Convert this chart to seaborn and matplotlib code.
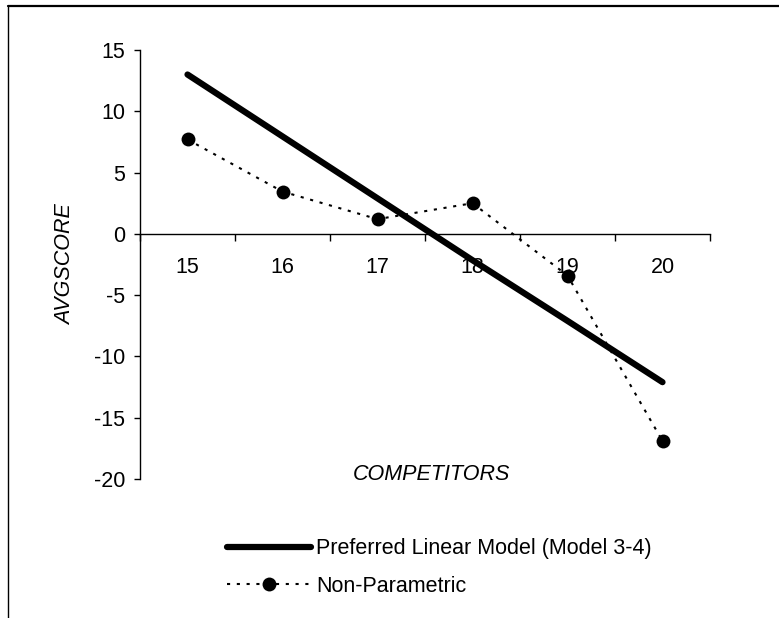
import matplotlib
matplotlib.use("Agg")
import matplotlib.pyplot as plt
from matplotlib.lines import Line2D
import seaborn as sns
import pandas as pd

competitors = [15, 16, 17, 18, 19, 20]
linear_model = [13.0, 7.95, 2.9, -2.15, -7.1, -12.1]
non_parametric = [7.7, 3.45, 1.2, 2.5, -3.4, -16.9]
y_ticks = [-20, -15, -10, -5, 0, 5, 10, 15]

df = pd.DataFrame({"COMPETITORS": competitors,
                   "linear": linear_model,
                   "nonpar": non_parametric})

sns.set_theme(style="white")
plt.rcParams['font.family'] = ['Liberation Sans', 'DejaVu Sans']
plt.rcParams['axes.unicode_minus'] = False
plt.rcParams['text.color'] = "black"
fs = 15.5

fig = plt.figure(figsize=(7.79, 6.18), dpi=100)
ax = fig.add_axes([140/779, 1 - 479/618, 570/779, 429/618])

sns.lineplot(data=df, x="COMPETITORS", y="linear", color="black", linewidth=4.5,
             solid_capstyle="round", label="Preferred Linear Model (Model 3-4)", ax=ax)
sns.lineplot(data=df, x="COMPETITORS", y="nonpar", color="black", linewidth=1.5,
             linestyle=(0, (1.5, 3.2)), marker="o", markersize=10, markeredgewidth=0,
             label="Non-Parametric", ax=ax)

ax.set_xlim(14.5, 20.5)
ax.set_ylim(-20, 15)
ax.set_yticks(y_ticks)
ax.set_xticks(competitors)
ax.set_xticks([c - 0.5 for c in competitors] + [20.5], minor=True)
ax.tick_params(axis="x", which="major", length=0, pad=17, labelsize=fs, colors="black")
ax.tick_params(axis="x", which="minor", length=5, width=1, direction="out", bottom=True, color="black")
ax.tick_params(axis="y", length=4.5, width=1, direction="out", left=True, pad=6, labelsize=fs, colors="black")

for s in ["top", "right"]:
    ax.spines[s].set_visible(False)
ax.spines["bottom"].set_position(("data", 0))
for s in ["left", "bottom"]:
    ax.spines[s].set_color("black")
    ax.spines[s].set_linewidth(1)

ax.set_xlabel("COMPETITORS", fontsize=fs, style="italic", color="black")
ax.xaxis.set_label_coords(0.511, 0.035)
ax.set_ylabel("AVGSCORE", fontsize=fs, style="italic", color="black")
ax.yaxis.set_label_coords(-0.113, 0.5)

ax.legend(loc="center left", bbox_to_anchor=(227/779, 1 - 567.5/618),
          bbox_transform=fig.transFigure, frameon=False, fontsize=fs,
          handlelength=3.9, handletextpad=0.25, labelspacing=0.75,
          borderpad=0, borderaxespad=0, numpoints=1, labelcolor="black")

# chart area border (only top and left edges are visible in the crop)
fig.add_artist(Line2D([8/779, 1], [1 - 6/618, 1 - 6/618], transform=fig.transFigure,
                      color="black", linewidth=1.6))
fig.add_artist(Line2D([8/779, 8/779], [0, 1 - 6/618], transform=fig.transFigure,
                      color="black", linewidth=1))

fig.savefig("out.png", dpi=100, facecolor="white")
